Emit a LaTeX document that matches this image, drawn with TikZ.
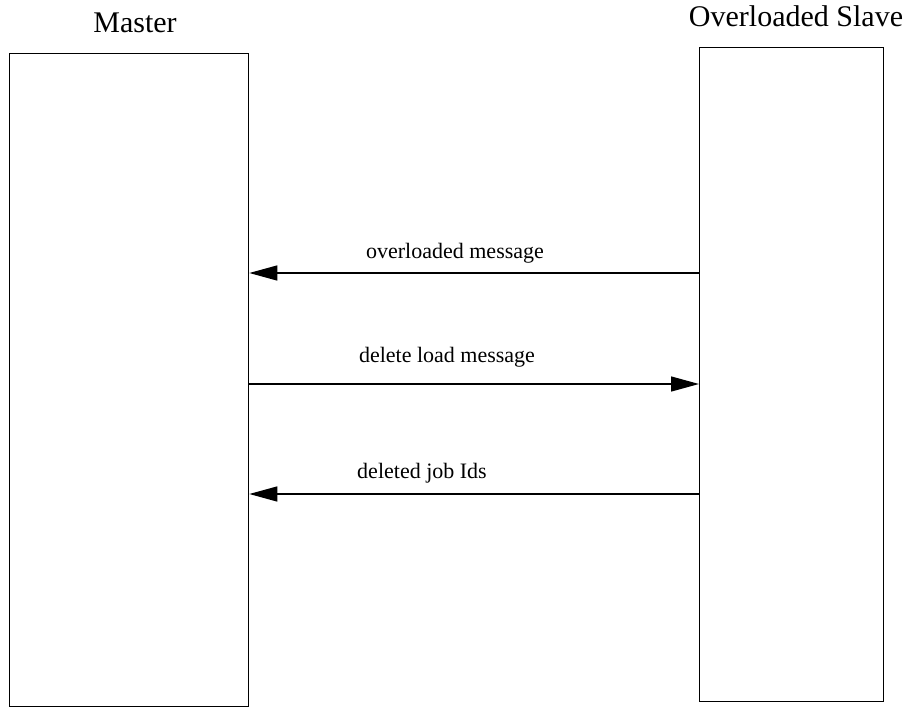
\documentclass[tikz,border=0pt]{standalone}
\usepackage{fontspec}
\setmainfont{Liberation Serif}
\usetikzlibrary{arrows.meta}
\tikzset{
  lifebox/.style={draw=black, line width=1.3pt, rectangle, inner sep=0pt, anchor=north west},
  msg/.style={line width=1.4pt, -{Triangle[length=28pt,width=15pt]}},
  title/.style={anchor=base, inner sep=0pt, font=\fontsize{30}{36}\selectfont},
  msglabel/.style={anchor=base, inner sep=0pt, font=\fontsize{22}{26}\selectfont}
}
\begin{document}
\begin{tikzpicture}[x=1pt,y=1pt]
\useasboundingbox (0,0) rectangle (908,-707);
% lifeline boxes
\node[lifebox, minimum width=239pt, minimum height=653pt] (master) at (9,-53) {};
\node[lifebox, minimum width=184pt, minimum height=654pt] (slave) at (699,-47) {};
% titles
\node[title] (mtitle) at (135,-32) {Master};
\node[title] (stitle) at (796,-26) {Overloaded Slave};
% message heights
\coordinate (y1) at (0,-273);
\coordinate (y2) at (0,-384);
\coordinate (y3) at (0,-494);
% messages
\draw[msg] (slave.west |- y1) -- (master.east |- y1);
\draw[msg] (master.east |- y2) -- (slave.west |- y2);
\draw[msg] (slave.west |- y3) -- (master.east |- y3);
% labels
\node[msglabel] (l1) at (455,-258) {overloaded message};
\node[msglabel] (l2) at (447,-362) {delete load message};
\node[msglabel] (l3) at (422,-478) {deleted job Ids};
\end{tikzpicture}
\end{document}
